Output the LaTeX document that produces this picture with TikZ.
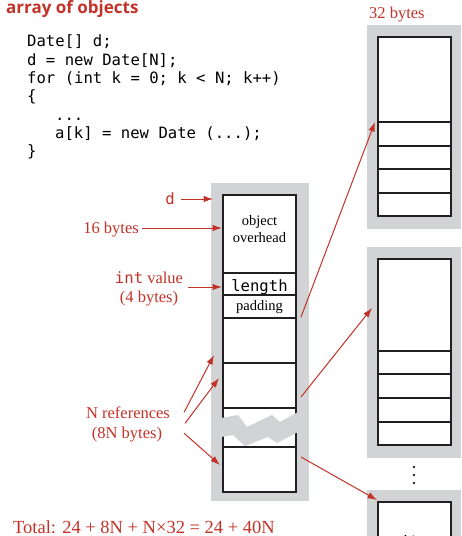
\documentclass[tikz,border=0pt]{standalone}
\usepackage{fontspec}
\setmainfont{Liberation Serif}
\newfontfamily\codefont{DejaVu Sans Mono}
\newfontfamily\titlefont{Open Sans}
\usetikzlibrary{arrows.meta}
\definecolor{redc}{RGB}{195,50,40}
\definecolor{greyc}{RGB}{209,211,212}
\definecolor{inkc}{RGB}{35,31,32}
\begin{document}
\begin{tikzpicture}[x=1pt,y=-1pt,
  frame/.style={fill=greyc,draw=none},
  cell/.style={draw=inkc,line width=1.1pt,fill=white},
  rowline/.style={draw=inkc,line width=1.1pt},
  ptr/.style={draw=redc,line width=1pt,-{Latex[length=9.5pt,width=6.5pt]}},
  lab/.style={text=redc,font=\fontsize{16.5}{18}\selectfont,inner sep=0pt},
  code/.style={font=\codefont\fontsize{15.6}{18}\selectfont,anchor=base west,inner sep=0pt},
  inbox/.style={font=\fontsize{14.5}{15.5}\selectfont,inner sep=0pt,anchor=base}
]
\useasboundingbox (0,0) rectangle (461,536);

% title and code
\node[anchor=base west,text=redc,font=\titlefont\bfseries\fontsize{17}{18}\selectfont,inner sep=0pt] (title) at (6,13) {array of objects};
\node[code] (c1) at (27,46.7) {Date[] d;};
\node[code] (c2) at (27,65) {d = new Date[N];};
\node[code] (c3) at (27,83.3) {for (int k = 0; k < N; k++)};
\node[code] (c4) at (27,101.6) {\{};
\node[code] (c5) at (55,120) {...};
\node[code] (c6) at (55,138.3) {a[k] = new Date (...);};
\node[code] (c7) at (27,156.6) {\}};

% main array
\path[frame] (211,183) rectangle (309,501);
\path[cell] (223,195) rectangle (296,492);
\foreach \yy in {273,295,318,363,408,447} \draw[rowline] (223,\yy) -- (296,\yy);
\path[frame] (221,418) -- (238,415) -- (247,427) -- (272,415) -- (280,422) -- (298,412)
  -- (298,432) -- (277,443) -- (268,437) -- (245,446) -- (233,435) -- (221,437) -- cycle;
\node[inbox] (obj) at (259.5,225) {object};
\node[inbox] (ovh) at (259.5,242) {overhead};
\node[anchor=base,inner sep=0pt,font=\codefont\fontsize{15.6}{18}\selectfont] (len) at (259.5,291.5) {length};
\node[inbox] (pad) at (259.5,310) {padding};

% right objects
\path[frame] (367,25) rectangle (461,229);
\path[cell] (378,37) rectangle (451,216);
\foreach \yy in {122,146,169,193} \draw[rowline] (378,\yy) -- (451,\yy);
\path[frame] (367,247) rectangle (461,458);
\path[cell] (378,259) rectangle (451,445);
\foreach \yy in {351,374,398,422} \draw[rowline] (378,\yy) -- (451,\yy);
\foreach \yy in {467,475,483} \fill[inkc] (414,\yy) circle (1.3);
\path[frame] (367,490) rectangle (461,545);
\path[cell] (378,502) rectangle (451,560);
\node[inbox] (obj3) at (414.5,545.5) {object};
\node[lab,anchor=base west] (l32) at (369,18.5) {32 bytes};

% labels
\node[lab,anchor=base,font=\codefont\fontsize{15.6}{18}\selectfont] (dlab) at (170,204) {d};
\node[lab,anchor=base east] (l16) at (139,233) {16 bytes};
\node[lab,anchor=base] (lint) at (149,283) {{\codefont\fontsize{15.6}{18}\selectfont int} value};
\node[lab,anchor=base] (l4) at (149,302) {(4 bytes)};
\node[lab,anchor=base] (lN) at (128,418) {N references};
\node[lab,anchor=base] (l8N) at (127,438.5) {(8N bytes)};
\node[lab,anchor=base west,font=\fontsize{18.5}{20}\selectfont] (total) at (13,533) {Total: 24 + 8N + N×32 = 24 + 40N};

% pointer coordinates
\coordinate (tD) at (213,199);
\coordinate (t16) at (222,228);
\coordinate (tint) at (222,287);
\coordinate (rA) at (214,355);
\coordinate (rB) at (219,378);
\coordinate (rC) at (220,465);
\coordinate (sA) at (301,317);
\coordinate (sB) at (301,397);
\coordinate (sC) at (301,457);
\coordinate (tA) at (375,122);
\coordinate (tB) at (372,308);
\coordinate (tC) at (377,500);

\draw[ptr] ([xshift=6pt]dlab.east |- tD) -- (tD);
\draw[ptr] ([xshift=3pt]l16.east |- t16) -- (t16);
\draw[ptr] ([xshift=5pt]lint.east |- tint) -- (tint);
\draw[ptr] ([xshift=14pt]lN.east) -- (rA);
\draw[ptr] ([xshift=15pt,yshift=-11pt]lN.east) -- (rB);
\draw[ptr] ([xshift=14pt,yshift=-21pt]lN.east) -- (rC);
\draw[ptr] (sA) -- (tA);
\draw[ptr] (sB) -- (tB);
\draw[ptr] (sC) -- (tC);
\end{tikzpicture}
\end{document}
